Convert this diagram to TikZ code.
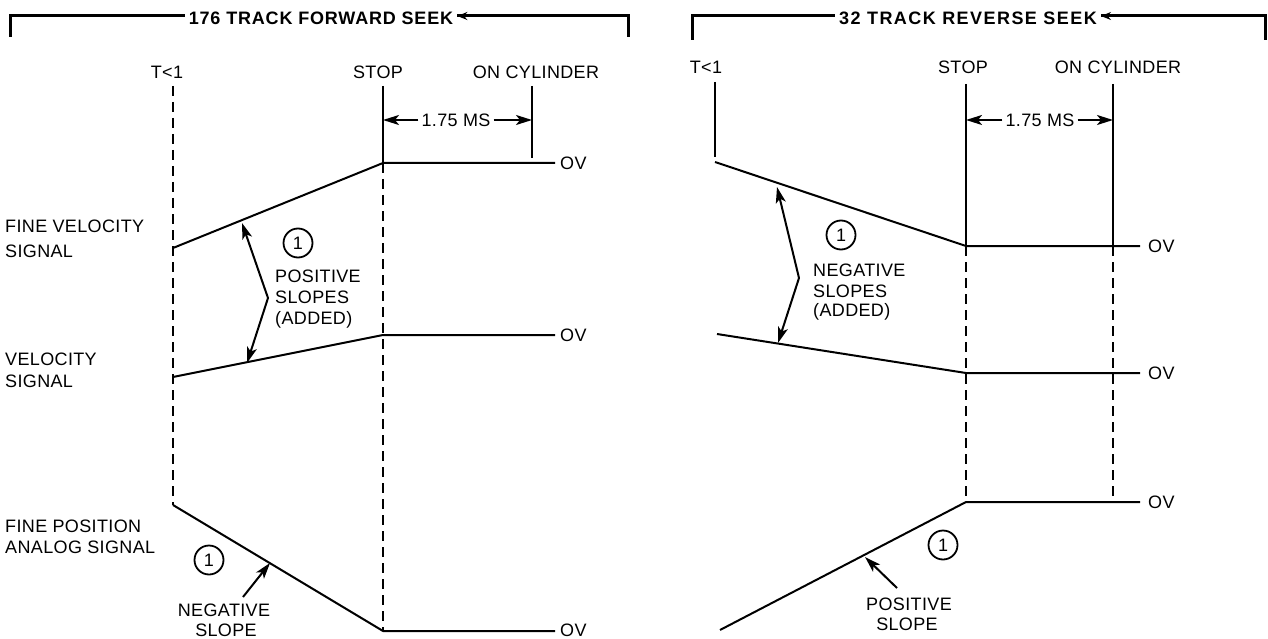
\documentclass[tikz,border=0pt]{standalone}
\usepackage{fontspec}
\setmainfont[LetterSpace=2]{Liberation Sans}
\newfontfamily\hdrfontA[LetterSpace=4.5]{Liberation Sans}
\newfontfamily\hdrfontB[LetterSpace=8]{Liberation Sans}
\usetikzlibrary{arrows.meta}
\begin{document}
\begin{tikzpicture}[x=1pt,y=-1pt,
  sig/.style={line width=2pt, line join=round},
  dsh/.style={line width=1.8pt, dash pattern=on 10pt off 6pt},
  hline/.style={line width=3pt, line join=miter},
  lbl/.style={font=\fontsize{18}{22}\selectfont, inner sep=0pt, anchor=base},
  lblw/.style={lbl, anchor=base west},
  hdrA/.style={font=\hdrfontA\fontsize{18}{22}\selectfont\bfseries, inner sep=4pt, anchor=base},
  hdrB/.style={font=\hdrfontB\fontsize{18}{22}\selectfont\bfseries, inner sep=4pt, anchor=base},
  circ/.style={circle, draw, line width=1.8pt, minimum size=29pt, inner sep=0pt, font=\fontsize{18}{18}\selectfont},
  arr/.style={line width=2pt, -{Stealth[length=16pt,width=10pt,inset=4pt]}},
  darr/.style={line width=2pt, line join=round, {Stealth[length=16pt,width=10pt,inset=4pt]}-{Stealth[length=16pt,width=10pt,inset=4pt]}},
  htip/.style={line width=3pt, -{Stealth[length=10pt,width=8pt]}}
]
\useasboundingbox[fill=white] (0,0) rectangle (1268,639);

% ================= LEFT PANEL =================
\node[hdrA] (hL) at (321,25) {176 TRACK FORWARD SEEK};
\coordinate (hLa) at (10,37); \coordinate (hLb) at (10,16);
\coordinate (hLc) at (628,16); \coordinate (hLd) at (628,37);
\draw[hline] (hLa) -- (hLb) -- (hLb -| hL.west);
\draw[hline] (hLd) -- (hLc) -- (hLc -| hL.east);
\draw[htip] (hLc) ++(-80,0) -- (hLc -| hL.east);

\node[lbl] (tL) at (167,79) {T<1};
\node[lbl] (sL) at (378,79) {STOP};
\node[lbl] (cL) at (536,79) {ON CYLINDER};

\coordinate (tL0) at (173,86);
\coordinate (fvL0) at (173,248);
\coordinate (vL0) at (173,377);
\coordinate (fpL0) at (173,505);
\draw[dsh] (tL0) -- (fpL0);

\coordinate (sL0) at (383,86);
\coordinate (fvL1) at (383,163);
\coordinate (vL1) at (383,335);
\coordinate (fpL1) at (383,631);
\draw[sig] (sL0) -- (fvL1);
\draw[dsh] (fvL1) -- (fpL1);

\coordinate (cL0) at (532,86);
\coordinate (cL1) at (532,158);
\draw[sig] (cL0) -- (cL1);

\node[lbl] (dimL) at (456,126.5) {1.75 MS};
\coordinate (dL0) at (383,120); \coordinate (dL1) at (532,120);
\draw[arr] (dimL.west |- dL0) ++(-3,0) -- (dL0);
\draw[arr] (dimL.east |- dL1) ++(3,0) -- (dL1);

\node[lblw] (ovL1) at (560,169.5) {OV};
\node[lblw] (ovL2) at (560,341.5) {OV};
\node[lblw] (ovL3) at (560,636.5) {OV};
\coordinate (fvL2) at (555,163);
\coordinate (vL2) at (555,335);
\coordinate (fpL2) at (555,631);
\draw[sig] (fvL0) -- (fvL1) -- (fvL2);
\draw[sig] (vL0) -- (vL1) -- (vL2);
\draw[sig] (fpL0) -- (fpL1) -- (fpL2);

\node[lblw] (lfv1) at (5,233) {FINE VELOCITY};
\node[lblw] (lfv2) at (5,257) {SIGNAL};
\node[lblw] (lv1) at (5,365) {VELOCITY};
\node[lblw] (lv2) at (5,387) {SIGNAL};
\node[lblw] (lfp1) at (5,532) {FINE POSITION};
\node[lblw] (lfp2) at (5,553) {ANALOG SIGNAL};

\coordinate (daL0) at (242,223); \coordinate (daL1) at (268,298); \coordinate (daL2) at (247,363);
\draw[darr] (daL0) -- (daL1) -- (daL2);
\node[circ] (c1) at (298,243) {1};
\node[lblw] (psL1) at (275,282) {POSITIVE};
\node[lblw] (psL2) at (275,303) {SLOPES};
\node[lblw] (psL3) at (275,324) {(ADDED)};

\node[circ] (c2) at (209,560) {1};
\coordinate (nsA) at (243,597); \coordinate (nsB) at (270,563);
\draw[arr] (nsA) -- (nsB);
\node[lbl] (nsL1) at (224,616) {NEGATIVE};
\node[lbl] (nsL2) at (226,636) {SLOPE};

% ================= RIGHT PANEL =================
\node[hdrB] (hR) at (968,25) {32 TRACK REVERSE SEEK};
\coordinate (hRa) at (692,40); \coordinate (hRb) at (692,16);
\coordinate (hRc) at (1265,16); \coordinate (hRd) at (1265,40);
\draw[hline] (hRa) -- (hRb) -- (hRb -| hR.west);
\draw[hline] (hRd) -- (hRc) -- (hRc -| hR.east);
\draw[htip] (hRc) ++(-100,0) -- (hRc -| hR.east);

\node[lbl] (tR) at (706,74) {T<1};
\node[lbl] (sR) at (963,74) {STOP};
\node[lbl] (cR) at (1118,74) {ON CYLINDER};

\coordinate (tR0) at (715,82); \coordinate (tR1) at (715,157);
\draw[sig] (tR0) -- (tR1);

\coordinate (sR0) at (966,84);
\coordinate (fvR1) at (966,246);
\coordinate (vR1) at (966,373);
\coordinate (fpR1) at (966,502);
\draw[sig] (sR0) -- (fvR1);
\draw[dsh] (fvR1) -- (fpR1);

\coordinate (cR0) at (1113,84);
\coordinate (cR1) at (1113,246);
\coordinate (cR2) at (1113,500);
\draw[sig] (cR0) -- (cR1);
\draw[dsh] (cR1) -- (cR2);

\node[lbl] (dimR) at (1040,126.5) {1.75 MS};
\coordinate (dR0) at (966,120); \coordinate (dR1) at (1113,120);
\draw[arr] (dimR.west |- dR0) ++(-3,0) -- (dR0);
\draw[arr] (dimR.east |- dR1) ++(3,0) -- (dR1);

\coordinate (fvR0) at (715,162);
\coordinate (vR0) at (717,334);
\coordinate (fpR0) at (720,630);
\coordinate (fvR2) at (1140,246);
\coordinate (vR2) at (1140,373);
\coordinate (fpR2) at (1140,502);
\draw[sig] (fvR0) -- (fvR1) -- (fvR2);
\draw[sig] (vR0) -- (vR1) -- (vR2);
\draw[sig] (fpR0) -- (fpR1) -- (fpR2);
\node[lblw] (ovR1) at (1148,252.5) {OV};
\node[lblw] (ovR2) at (1148,379.5) {OV};
\node[lblw] (ovR3) at (1148,508.5) {OV};

\coordinate (daR0) at (777,187); \coordinate (daR1) at (799,278); \coordinate (daR2) at (778,343);
\draw[darr] (daR0) -- (daR1) -- (daR2);
\node[circ] (c3) at (841,235) {1};
\node[lblw] (nsR1) at (813,276) {NEGATIVE};
\node[lblw] (nsR2) at (813,297) {SLOPES};
\node[lblw] (nsR3) at (813,316) {(ADDED)};

\node[circ] (c4) at (943,545) {1};
\coordinate (psA) at (897,588); \coordinate (psB) at (865,557);
\draw[arr] (psA) -- (psB);
\node[lbl] (psR1) at (909,610) {POSITIVE};
\node[lbl] (psR2) at (907,630) {SLOPE};
\end{tikzpicture}
\end{document}
